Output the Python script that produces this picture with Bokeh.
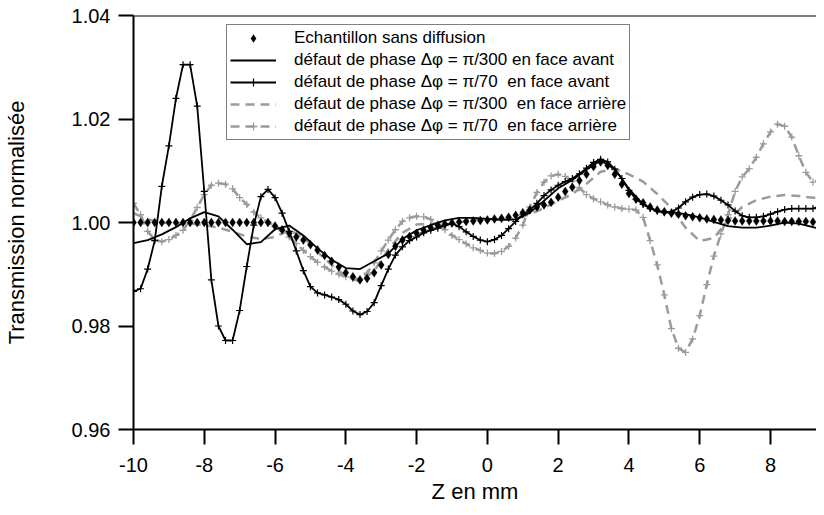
from bokeh.plotting import figure
from bokeh.models import (Range1d, FixedTicker, PrintfTickFormatter, Span,
                          Legend, LegendItem)
from bokeh.embed import file_html
from bokeh.resources import INLINE

# ---------------- data ----------------
X_FINE = [round(-10 + 0.2 * i, 1) for i in range(99)]     # marker sampling grid (mm)
X_COARSE = [round(-10 + 0.4 * i, 1) for i in range(50)]   # smooth-curve sampling grid (mm)

sans_diffusion = [
    1.0000, 1.0000, 1.0000, 1.0000, 1.0000, 1.0000, 1.0000, 1.0000, 1.0000, 1.0000,
    1.0000, 1.0000, 1.0000, 1.0000, 1.0000, 1.0000, 1.0000, 1.0000, 1.0000, 1.0000,
    0.9993, 0.9986, 0.9979, 0.9972, 0.9966, 0.9957, 0.9947, 0.9936, 0.9925, 0.9914,
    0.9903, 0.9895, 0.9889, 0.9892, 0.9903, 0.9918, 0.9938, 0.9954, 0.9966, 0.9973,
    0.9979, 0.9985, 0.9990, 0.9994, 0.9997, 0.9999, 1.0001, 1.0002, 1.0003, 1.0004,
    1.0005, 1.0007, 1.0008, 1.0010, 1.0014, 1.0019, 1.0024, 1.0030, 1.0034, 1.0039,
    1.0049, 1.0060, 1.0068, 1.0081, 1.0093, 1.0108, 1.0117, 1.0110, 1.0093, 1.0074,
    1.0056, 1.0045, 1.0038, 1.0030, 1.0024, 1.0021, 1.0018, 1.0016, 1.0013, 1.0011,
    1.0009, 1.0007, 1.0006, 1.0005, 1.0004, 1.0003, 1.0003, 1.0003, 1.0003, 1.0003,
    1.0003, 1.0003, 1.0002, 1.0002, 1.0002, 1.0002, 1.0001, 1.0001, 1.0001,
]

avant_pi70 = [
    0.9867, 0.9872, 0.9910, 0.9965, 1.0070, 1.0148, 1.0240, 1.0305, 1.0305, 1.0225,
    1.0060, 0.9889, 0.9800, 0.9772, 0.9772, 0.9830, 0.9915, 0.9995, 1.0050, 1.0064,
    1.0048, 1.0018, 0.9983, 0.9945, 0.9907, 0.9876, 0.9864, 0.9860, 0.9856, 0.9851,
    0.9842, 0.9829, 0.9822, 0.9828, 0.9845, 0.9878, 0.9910, 0.9937, 0.9953, 0.9965,
    0.9972, 0.9980, 0.9985, 0.9989, 0.9995, 0.9998, 0.9992, 0.9982, 0.9973, 0.9966,
    0.9963, 0.9967, 0.9975, 0.9988, 1.0002, 1.0015, 1.0024, 1.0037, 1.0052, 1.0063,
    1.0072, 1.0079, 1.0085, 1.0094, 1.0105, 1.0116, 1.0122, 1.0117, 1.0103, 1.0085,
    1.0062, 1.0045, 1.0035, 1.0027, 1.0022, 1.0019, 1.0020, 1.0028, 1.0040, 1.0049,
    1.0054, 1.0055, 1.0051, 1.0043, 1.0034, 1.0022, 1.0013, 1.0010, 1.0010, 1.0012,
    1.0016, 1.0021, 1.0025, 1.0027, 1.0027, 1.0027, 1.0027, 1.0032, 1.0042,
]

arriere_pi70 = [
    1.0037, 1.0015, 0.9983, 0.9967, 0.9963, 0.9967, 0.9975, 0.9985, 1.0004, 1.0029,
    1.0054, 1.0072, 1.0076, 1.0074, 1.0065, 1.0048, 1.0035, 1.0020, 1.0009, 1.0001,
    0.9992, 0.9984, 0.9972, 0.9959, 0.9946, 0.9934, 0.9923, 0.9914, 0.9906, 0.9900,
    0.9895, 0.9892, 0.9891, 0.9902, 0.9922, 0.9945, 0.9966, 0.9986, 1.0002, 1.0009,
    1.0012, 1.0011, 1.0006, 0.9997, 0.9986, 0.9975, 0.9967, 0.9959, 0.9951, 0.9946,
    0.9941, 0.9940, 0.9944, 0.9954, 0.9970, 0.9995, 1.0030, 1.0058, 1.0078, 1.0090,
    1.0093, 1.0089, 1.0080, 1.0067, 1.0054, 1.0046, 1.0040, 1.0034, 1.0030, 1.0027,
    1.0026, 1.0024, 1.0010, 0.9965, 0.9918, 0.9860, 0.9795, 0.9757, 0.9749, 0.9775,
    0.9820, 0.9880, 0.9935, 0.9978, 1.0015, 1.0060, 1.0088, 1.0104, 1.0126, 1.0152,
    1.0175, 1.0190, 1.0186, 1.0165, 1.0129, 1.0097, 1.0078, 1.0084, 1.0095,
]

avant_pi300 = [
    0.9960, 0.9966, 0.9977, 0.9991, 1.0008, 1.0020, 1.0012, 0.9986, 0.9958, 0.9962,
    0.9987, 0.9994, 0.9975, 0.9950, 0.9928, 0.9912, 0.9910, 0.9925, 0.9940, 0.9968,
    0.9985, 0.9995, 1.0004, 1.0009, 1.0009, 1.0007, 1.0005, 1.0006, 1.0019, 1.0042,
    1.0066, 1.0082, 1.0102, 1.0120, 1.0103, 1.0065, 1.0035, 1.0022, 1.0020, 1.0016,
    1.0010, 1.0001, 0.9993, 0.9990, 0.9990, 0.9994, 1.0000, 0.9998, 0.9991, 0.9985,
]

arriere_pi300 = [
    1.0018, 1.0006, 1.0000, 0.9998, 0.9998, 0.9995, 0.9990, 0.9982, 0.9973, 0.9968,
    0.9972, 0.9985, 0.9972, 0.9943, 0.9918, 0.9896, 0.9886, 0.9906, 0.9948, 0.9980,
    0.9996, 0.9998, 0.9996, 1.0000, 1.0006, 1.0007, 1.0005, 1.0007, 1.0016, 1.0028,
    1.0042, 1.0055, 1.0075, 1.0098, 1.0104, 1.0093, 1.0079, 1.0055, 1.0028, 0.9990,
    0.9964, 0.9970, 1.0004, 1.0030, 1.0043, 1.0050, 1.0053, 1.0051, 1.0048, 1.0047,
]

X_TICKS = [-10, -8, -6, -4, -2, 0, 2, 4, 6, 8]
Y_TICKS = [0.96, 0.98, 1.00, 1.02, 1.04]

LABELS = [
    "Echantillon sans diffusion",
    "défaut de phase Δφ = π/300 en face avant",
    "défaut de phase Δφ = π/70  en face avant",
    "défaut de phase Δφ = π/300  en face arrière",
    "défaut de phase Δφ = π/70  en face arrière",
]

# ---------------- figure ----------------
FONT = "Liberation Sans"
GRAY = "#9b9b9b"

p = figure(width=816, height=507, output_backend="svg", toolbar_location=None,
           x_range=Range1d(-10, 9.3), y_range=Range1d(0.96, 1.04),
           min_border_left=131, min_border_right=0, min_border_top=15,
           min_border_bottom=78)
p.outline_line_color = None
p.xgrid.visible = False
p.ygrid.visible = False
p.background_fill_color = "white"
p.border_fill_color = "white"

p.xaxis.ticker = FixedTicker(ticks=X_TICKS)
p.yaxis.ticker = FixedTicker(ticks=Y_TICKS)
p.xaxis.formatter = PrintfTickFormatter(format="%d")
p.yaxis.formatter = PrintfTickFormatter(format="%.2f")
p.xaxis.axis_label = "Z en mm"
p.yaxis.axis_label = "Transmission normalisée"

for ax in (p.xaxis[0], p.yaxis[0]):
    ax.axis_line_width = 2
    ax.axis_line_color = "black"
    ax.major_tick_line_width = 2
    ax.major_tick_line_color = "black"
    ax.major_tick_out = 15
    ax.major_tick_in = 0
    ax.minor_tick_line_color = None
    ax.major_label_text_font = FONT
    ax.major_label_text_font_size = "20px"
    ax.major_label_text_color = "black"
    ax.axis_label_text_font = FONT
    ax.axis_label_text_font_size = "22px"
    ax.axis_label_text_font_style = "normal"
    ax.axis_label_text_color = "black"

p.xaxis.major_label_standoff = 13
p.xaxis.axis_label_standoff = 4
p.yaxis.major_label_standoff = 8
p.yaxis.axis_label_standoff = 40

p.add_layout(Span(location=1.04, dimension="width", line_color="black",
                  line_width=2))

# ---------------- series ----------------
r_a300 = p.line(X_COARSE, arriere_pi300, line_color=GRAY, line_width=2.5,
                line_dash="9 6")
r_a70_l = p.line(X_FINE, arriere_pi70, line_color=GRAY, line_width=2.5,
                 line_dash="9 6")
r_a70_m = p.scatter(X_FINE, arriere_pi70, marker="cross", size=7,
                    line_color=GRAY, line_width=1.3)

r_v300 = p.line(X_COARSE, avant_pi300, line_color="black", line_width=1.8)
r_v70_l = p.line(X_FINE, avant_pi70, line_color="black", line_width=1.8)
r_v70_m = p.scatter(X_FINE, avant_pi70, marker="cross", size=7,
                    line_color="black", line_width=1.2)

r_sd = p.scatter(X_FINE, sans_diffusion, marker="diamond", size=9,
                 fill_color="black", line_color="black", line_width=0.3)

legend = Legend(items=[
    LegendItem(label=LABELS[0], renderers=[r_sd]),
    LegendItem(label=LABELS[1], renderers=[r_v300]),
    LegendItem(label=LABELS[2], renderers=[r_v70_l, r_v70_m]),
    LegendItem(label=LABELS[3], renderers=[r_a300]),
    LegendItem(label=LABELS[4], renderers=[r_a70_l, r_a70_m]),
], location=(93, 289), margin=0, padding=3, spacing=2,
    glyph_width=46, glyph_height=20, label_height=20, label_standoff=18,
    label_text_font=FONT, label_text_font_size="17px",
    label_text_color="black", border_line_color="black",
    border_line_width=1, background_fill_color="white",
    background_fill_alpha=1.0)
p.add_layout(legend)

open("out.html", "w", encoding="utf-8").write(file_html(p, INLINE))
